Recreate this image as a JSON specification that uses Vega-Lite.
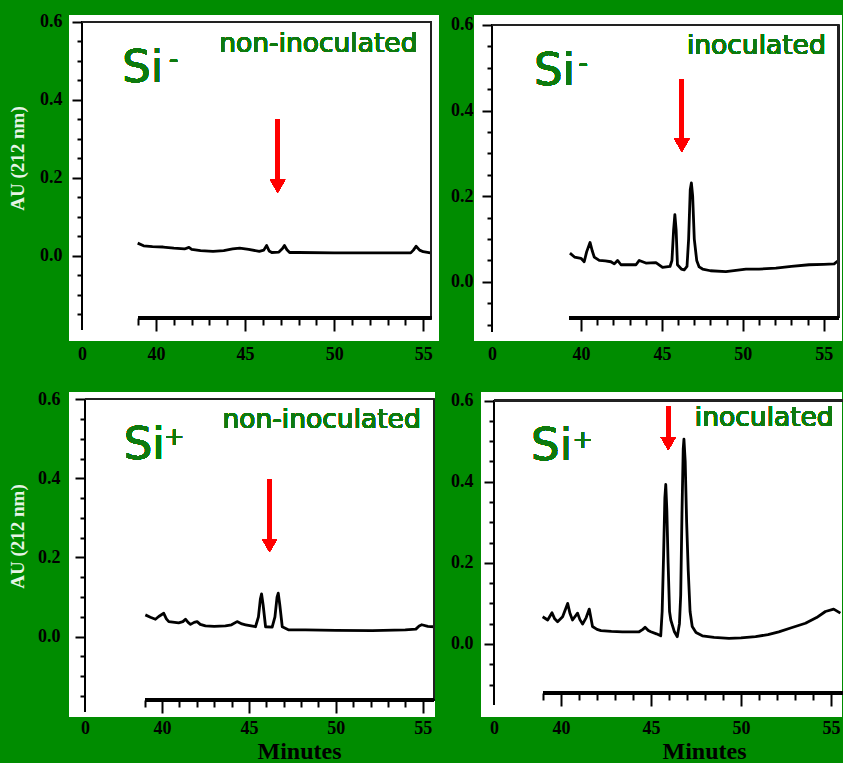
{
  "$schema": "https://vega.github.io/schema/vega-lite/v6.json",
  "background": "#008c00",
  "padding": {"left": 8, "top": 12, "right": 0, "bottom": 0},
  "spacing": 27,
  "config": {
    "view": {"fill": "white", "stroke": null},
    "axis": {"domain": false, "grid": false, "labelFont": "Liberation Serif", "labelFontWeight": "bold", "labelFontSize": 18, "labelColor": "black", "tickColor": "black", "tickWidth": 2, "labelFlush": false, "labelBound": false, "titleFont": "Liberation Serif", "titleFontWeight": "bold"},
    "text": {"font": "DejaVu Sans", "color": "#0e7a0e"}
  },
  "datasets": {
    "p1": [
      {"t": 38.97, "au": 0.032}, {"t": 39.3, "au": 0.025}, {"t": 39.8, "au": 0.023}, {"t": 40.4, "au": 0.022}, {"t": 41.0, "au": 0.019}, {"t": 41.6, "au": 0.017}, {"t": 41.85, "au": 0.021}, {"t": 42.0, "au": 0.016}, {"t": 42.5, "au": 0.013}, {"t": 43.2, "au": 0.011}, {"t": 43.8, "au": 0.013}, {"t": 44.3, "au": 0.017}, {"t": 44.7, "au": 0.019}, {"t": 45.2, "au": 0.016}, {"t": 45.8, "au": 0.011}, {"t": 46.05, "au": 0.014}, {"t": 46.21, "au": 0.026}, {"t": 46.35, "au": 0.012}, {"t": 46.5, "au": 0.008}, {"t": 46.9, "au": 0.009}, {"t": 47.1, "au": 0.018}, {"t": 47.21, "au": 0.026}, {"t": 47.35, "au": 0.015}, {"t": 47.5, "au": 0.008}, {"t": 48.0, "au": 0.008}, {"t": 50.0, "au": 0.007}, {"t": 52.0, "au": 0.007}, {"t": 54.3, "au": 0.007}, {"t": 54.45, "au": 0.014}, {"t": 54.6, "au": 0.024}, {"t": 54.8, "au": 0.014}, {"t": 55.0, "au": 0.010}, {"t": 55.4, "au": 0.007}
    ],
    "p2": [
      {"t": 39.32, "au": 0.067}, {"t": 39.6, "au": 0.058}, {"t": 40.0, "au": 0.055}, {"t": 40.2, "au": 0.047}, {"t": 40.35, "au": 0.07}, {"t": 40.56, "au": 0.092}, {"t": 40.7, "au": 0.072}, {"t": 40.82, "au": 0.058}, {"t": 41.13, "au": 0.050}, {"t": 41.5, "au": 0.049}, {"t": 41.85, "au": 0.047}, {"t": 42.06, "au": 0.042}, {"t": 42.26, "au": 0.050}, {"t": 42.47, "au": 0.040}, {"t": 43.0, "au": 0.040}, {"t": 43.4, "au": 0.040}, {"t": 43.6, "au": 0.050}, {"t": 44.01, "au": 0.044}, {"t": 44.63, "au": 0.045}, {"t": 45.04, "au": 0.034}, {"t": 45.5, "au": 0.036}, {"t": 45.62, "au": 0.05}, {"t": 45.72, "au": 0.12}, {"t": 45.8, "au": 0.157}, {"t": 45.88, "au": 0.12}, {"t": 45.96, "au": 0.04}, {"t": 46.2, "au": 0.030}, {"t": 46.38, "au": 0.028}, {"t": 46.55, "au": 0.036}, {"t": 46.65, "au": 0.10}, {"t": 46.75, "au": 0.215}, {"t": 46.82, "au": 0.231}, {"t": 46.9, "au": 0.20}, {"t": 47.0, "au": 0.10}, {"t": 47.15, "au": 0.05}, {"t": 47.3, "au": 0.035}, {"t": 47.51, "au": 0.030}, {"t": 48.0, "au": 0.026}, {"t": 48.95, "au": 0.024}, {"t": 50.19, "au": 0.030}, {"t": 51.0, "au": 0.030}, {"t": 52.04, "au": 0.032}, {"t": 53.0, "au": 0.036}, {"t": 54.09, "au": 0.040}, {"t": 55.0, "au": 0.041}, {"t": 55.64, "au": 0.042}, {"t": 55.9, "au": 0.050}
    ],
    "p3": [
      {"t": 39.04, "au": 0.055}, {"t": 39.33, "au": 0.049}, {"t": 39.62, "au": 0.044}, {"t": 39.81, "au": 0.051}, {"t": 40.10, "au": 0.059}, {"t": 40.25, "au": 0.045}, {"t": 40.39, "au": 0.038}, {"t": 40.96, "au": 0.035}, {"t": 41.2, "au": 0.038}, {"t": 41.35, "au": 0.044}, {"t": 41.5, "au": 0.036}, {"t": 41.64, "au": 0.031}, {"t": 41.85, "au": 0.036}, {"t": 42.02, "au": 0.038}, {"t": 42.2, "au": 0.031}, {"t": 42.5, "au": 0.027}, {"t": 43.0, "au": 0.026}, {"t": 43.65, "au": 0.027}, {"t": 44.0, "au": 0.030}, {"t": 44.32, "au": 0.038}, {"t": 44.6, "au": 0.032}, {"t": 44.81, "au": 0.030}, {"t": 45.38, "au": 0.025}, {"t": 45.55, "au": 0.05}, {"t": 45.66, "au": 0.095}, {"t": 45.73, "au": 0.108}, {"t": 45.82, "au": 0.08}, {"t": 45.96, "au": 0.025}, {"t": 46.34, "au": 0.024}, {"t": 46.5, "au": 0.05}, {"t": 46.62, "au": 0.10}, {"t": 46.69, "au": 0.110}, {"t": 46.78, "au": 0.08}, {"t": 46.92, "au": 0.025}, {"t": 47.30, "au": 0.017}, {"t": 48.26, "au": 0.017}, {"t": 50.0, "au": 0.016}, {"t": 52.10, "au": 0.015}, {"t": 54.0, "au": 0.017}, {"t": 54.61, "au": 0.019}, {"t": 54.8, "au": 0.027}, {"t": 54.95, "au": 0.030}, {"t": 55.3, "au": 0.026}, {"t": 55.66, "au": 0.025}
    ],
    "p4": [
      {"t": 38.98, "au": 0.067}, {"t": 39.26, "au": 0.059}, {"t": 39.50, "au": 0.077}, {"t": 39.65, "au": 0.062}, {"t": 39.81, "au": 0.055}, {"t": 40.09, "au": 0.067}, {"t": 40.37, "au": 0.100}, {"t": 40.5, "au": 0.075}, {"t": 40.64, "au": 0.059}, {"t": 40.92, "au": 0.076}, {"t": 41.05, "au": 0.06}, {"t": 41.20, "au": 0.049}, {"t": 41.4, "au": 0.065}, {"t": 41.57, "au": 0.086}, {"t": 41.75, "au": 0.043}, {"t": 42.0, "au": 0.036}, {"t": 42.22, "au": 0.033}, {"t": 42.8, "au": 0.031}, {"t": 43.41, "au": 0.030}, {"t": 44.0, "au": 0.030}, {"t": 44.34, "au": 0.030}, {"t": 44.55, "au": 0.036}, {"t": 44.67, "au": 0.041}, {"t": 44.85, "au": 0.033}, {"t": 44.99, "au": 0.030}, {"t": 45.3, "au": 0.025}, {"t": 45.54, "au": 0.020}, {"t": 45.62, "au": 0.08}, {"t": 45.70, "au": 0.22}, {"t": 45.77, "au": 0.36}, {"t": 45.82, "au": 0.393}, {"t": 45.88, "au": 0.33}, {"t": 45.95, "au": 0.20}, {"t": 46.03, "au": 0.08}, {"t": 46.10, "au": 0.059}, {"t": 46.3, "au": 0.030}, {"t": 46.46, "au": 0.018}, {"t": 46.58, "au": 0.05}, {"t": 46.65, "au": 0.12}, {"t": 46.72, "au": 0.32}, {"t": 46.79, "au": 0.48}, {"t": 46.83, "au": 0.505}, {"t": 46.9, "au": 0.45}, {"t": 46.98, "au": 0.30}, {"t": 47.07, "au": 0.18}, {"t": 47.17, "au": 0.08}, {"t": 47.29, "au": 0.043}, {"t": 47.5, "au": 0.028}, {"t": 47.85, "au": 0.020}, {"t": 48.5, "au": 0.016}, {"t": 49.33, "au": 0.014}, {"t": 50.0, "au": 0.015}, {"t": 50.81, "au": 0.018}, {"t": 51.5, "au": 0.023}, {"t": 52.10, "au": 0.030}, {"t": 52.8, "au": 0.040}, {"t": 53.58, "au": 0.051}, {"t": 54.2, "au": 0.065}, {"t": 54.69, "au": 0.080}, {"t": 55.15, "au": 0.086}, {"t": 55.52, "au": 0.076}
    ]
  },
  "vconcat": [
    {
      "hconcat": [
        {
          "width": 370, "height": 326,
          "data": {"name": "p1"},
          "resolve": {"axis": {"x": "independent", "y": "independent"}},
          "layer": [
            {
              "mark": {"type": "line", "color": "black", "strokeWidth": 2.8, "strokeJoin": "round"},
              "encoding": {
                "x": {"field": "t", "type": "quantitative", "scale": {"domain": [0, 37, 56], "range": [13, 33.6, 372], "nice": false, "zero": false},
                  "axis": {"orient": "bottom", "offset": -23, "values": [0, 40, 45, 50, 55], "tickSize": 13, "tickOpacity": {"condition": {"test": "datum.value === 0", "value": 0}, "value": 1}, "labelPadding": 14, "title": null}},
                "y": {"field": "au", "type": "quantitative", "scale": {"domain": [-0.219, 0.617], "nice": false, "zero": false},
                  "axis": {"orient": "left", "offset": -13, "values": [0, 0.2, 0.4, 0.6], "format": ".1f", "tickSize": 10, "labelPadding": 10, "title": "AU (212 nm)", "titleX": -65, "titleY": 143, "titleAngle": -90, "titleAlign": "center", "titleBaseline": "middle", "titleColor": "#e6f4e6", "titleFontSize": 19}}
              }
            },
            {"mark": {"type": "rule", "color": "black", "strokeWidth": 2}, "encoding": {"x": {"datum": 0, "type": "quantitative", "axis": null}, "y": {"datum": -0.19, "type": "quantitative", "axis": {"orient": "left", "offset": -13, "values": [-0.15, -0.1, -0.05, 0.05, 0.1, 0.15, 0.25, 0.3, 0.35, 0.45, 0.5, 0.55], "labels": false, "tickSize": 5, "title": null}}, "y2": {"datum": 0.6}}},
            {"mark": {"type": "rule", "color": "#222", "strokeWidth": 1.5}, "encoding": {"x": {"datum": 0, "type": "quantitative", "axis": null}, "x2": {"datum": 55.45}, "y": {"datum": 0.6, "type": "quantitative", "axis": null}}},
            {"mark": {"type": "rule", "color": "#222", "strokeWidth": 1.5}, "encoding": {"x": {"datum": 55.45, "type": "quantitative", "axis": null}, "y": {"datum": -0.16, "type": "quantitative", "axis": null}, "y2": {"datum": 0.6}}},
            {"mark": {"type": "rule", "color": "black", "strokeWidth": 2.5}, "encoding": {"x": {"datum": 39, "type": "quantitative", "axis": {"orient": "bottom", "offset": -23, "values": [39, 41, 42, 43, 44, 46, 47, 48, 49, 51, 52, 53, 54], "labels": false, "tickSize": 7, "title": null}}, "x2": {"datum": 55.45}, "y": {"datum": -0.16, "type": "quantitative", "axis": null}}},
            {"mark": {"type": "rule", "color": "red", "strokeWidth": 4}, "encoding": {"x": {"datum": 46.83, "type": "quantitative", "axis": null}, "y": {"datum": 0.349, "type": "quantitative", "axis": null}, "y2": {"datum": 0.19}}},
            {"mark": {"type": "point", "shape": "triangle-down", "filled": true, "color": "red", "opacity": 1, "size": 225}, "encoding": {"x": {"datum": 46.83, "type": "quantitative", "axis": null}, "y": {"datum": 0.178, "type": "quantitative", "axis": null}}},
            {"mark": {"type": "text", "text": "Si", "align": "left", "baseline": "alphabetic", "fontSize": 45}, "encoding": {"x": {"datum": 38.1, "type": "quantitative", "axis": null}, "y": {"datum": 0.444, "type": "quantitative", "axis": null}}},
            {"mark": {"type": "text", "text": "-", "align": "center", "baseline": "alphabetic", "fontSize": 26}, "encoding": {"x": {"datum": 40.99, "type": "quantitative", "axis": null}, "y": {"datum": 0.482, "type": "quantitative", "axis": null}}},
            {"mark": {"type": "text", "text": "non-inoculated", "align": "right", "baseline": "alphabetic", "fontSize": 26.5}, "encoding": {"x": {"datum": 54.68, "type": "quantitative", "axis": null}, "y": {"datum": 0.523, "type": "quantitative", "axis": null}}}
          ]
        },
        {
          "width": 368, "height": 326,
          "data": {"name": "p2"},
          "resolve": {"axis": {"x": "independent", "y": "independent"}},
          "layer": [
            {
              "mark": {"type": "line", "color": "black", "strokeWidth": 2.8, "strokeJoin": "round"},
              "encoding": {
                "x": {"field": "t", "type": "quantitative", "scale": {"domain": [0, 36, 56], "range": [18, 42.2, 366], "nice": false, "zero": false},
                  "axis": {"orient": "bottom", "offset": -23, "values": [0, 40, 45, 50, 55], "tickSize": 13, "tickOpacity": {"condition": {"test": "datum.value === 0", "value": 0}, "value": 1}, "labelPadding": 14, "title": null}},
                "y": {"field": "au", "type": "quantitative", "scale": {"domain": [-0.138, 0.623], "nice": false, "zero": false},
                  "axis": {"orient": "left", "offset": -18, "values": [0, 0.2, 0.4, 0.6], "format": ".1f", "tickSize": 10, "labelPadding": 9, "title": null}}
              }
            },
            {"mark": {"type": "rule", "color": "black", "strokeWidth": 2}, "encoding": {"x": {"datum": 0, "type": "quantitative", "axis": null}, "y": {"datum": -0.116, "type": "quantitative", "axis": {"orient": "left", "offset": -18, "values": [-0.1, -0.05, 0.05, 0.1, 0.15, 0.25, 0.3, 0.35, 0.45, 0.5, 0.55], "labels": false, "tickSize": 5, "title": null}}, "y2": {"datum": 0.6}}},
            {"mark": {"type": "rule", "color": "#222", "strokeWidth": 1.5}, "encoding": {"x": {"datum": 0, "type": "quantitative", "axis": null}, "x2": {"datum": 55.9}, "y": {"datum": 0.6, "type": "quantitative", "axis": null}}},
            {"mark": {"type": "rule", "color": "#222", "strokeWidth": 1.5}, "encoding": {"x": {"datum": 55.9, "type": "quantitative", "axis": null}, "y": {"datum": -0.0843, "type": "quantitative", "axis": null}, "y2": {"datum": 0.6}}},
            {"mark": {"type": "rule", "color": "black", "strokeWidth": 2.5}, "encoding": {"x": {"datum": 39.3, "type": "quantitative", "axis": {"orient": "bottom", "offset": -23, "values": [41, 42, 43, 44, 46, 47, 48, 49, 51, 52, 53, 54], "labels": false, "tickSize": 7, "title": null}}, "x2": {"datum": 55.9}, "y": {"datum": -0.0843, "type": "quantitative", "axis": null}}},
            {"mark": {"type": "rule", "color": "red", "strokeWidth": 4}, "encoding": {"x": {"datum": 46.23, "type": "quantitative", "axis": null}, "y": {"datum": 0.473, "type": "quantitative", "axis": null}, "y2": {"datum": 0.33}}},
            {"mark": {"type": "point", "shape": "triangle-down", "filled": true, "color": "red", "opacity": 1, "size": 225}, "encoding": {"x": {"datum": 46.23, "type": "quantitative", "axis": null}, "y": {"datum": 0.319, "type": "quantitative", "axis": null}}},
            {"mark": {"type": "text", "text": "Si", "align": "left", "baseline": "alphabetic", "fontSize": 45}, "encoding": {"x": {"datum": 37.1, "type": "quantitative", "axis": null}, "y": {"datum": 0.46, "type": "quantitative", "axis": null}}},
            {"mark": {"type": "text", "text": "-", "align": "center", "baseline": "alphabetic", "fontSize": 26}, "encoding": {"x": {"datum": 40.13, "type": "quantitative", "axis": null}, "y": {"datum": 0.4896, "type": "quantitative", "axis": null}}},
            {"mark": {"type": "text", "text": "inoculated", "align": "right", "baseline": "alphabetic", "fontSize": 26.5}, "encoding": {"x": {"datum": 55.12, "type": "quantitative", "axis": null}, "y": {"datum": 0.533, "type": "quantitative", "axis": null}}}
          ]
        }
      ],
      "spacing": 35,
      "bounds": "flush"
    },
    {
      "hconcat": [
        {
          "width": 366, "height": 325,
          "data": {"name": "p3"},
          "resolve": {"axis": {"x": "independent", "y": "independent"}},
          "layer": [
            {
              "mark": {"type": "line", "color": "black", "strokeWidth": 2.8, "strokeJoin": "round"},
              "encoding": {
                "x": {"field": "t", "type": "quantitative", "scale": {"domain": [0, 37, 56], "range": [16, 40.9, 371], "nice": false, "zero": false},
                  "axis": {"orient": "bottom", "offset": -17, "values": [0, 40, 45, 50, 55], "tickSize": 13, "tickOpacity": {"condition": {"test": "datum.value === 0", "value": 0}, "value": 1}, "labelPadding": 6, "title": "Minutes", "titleX": 230, "titleY": 51, "titleAlign": "center", "titleBaseline": "middle", "titleColor": "black", "titleFontSize": 24}},
                "y": {"field": "au", "type": "quantitative", "scale": {"domain": [-0.203, 0.618], "nice": false, "zero": false},
                  "axis": {"orient": "left", "offset": -16, "values": [0, 0.2, 0.4, 0.6], "format": ".1f", "tickSize": 10, "labelPadding": 15, "title": "AU (212 nm)", "titleX": -68, "titleY": 144, "titleAngle": -90, "titleAlign": "center", "titleBaseline": "middle", "titleColor": "#e6f4e6", "titleFontSize": 19}}
              }
            },
            {"mark": {"type": "rule", "color": "black", "strokeWidth": 2}, "encoding": {"x": {"datum": 0, "type": "quantitative", "axis": null}, "y": {"datum": -0.19, "type": "quantitative", "axis": {"orient": "left", "offset": -16, "values": [-0.15, -0.1, -0.05, 0.05, 0.1, 0.15, 0.25, 0.3, 0.35, 0.45, 0.5, 0.55], "labels": false, "tickSize": 5, "title": null}}, "y2": {"datum": 0.6}}},
            {"mark": {"type": "rule", "color": "#222", "strokeWidth": 1.5}, "encoding": {"x": {"datum": 0, "type": "quantitative", "axis": null}, "x2": {"datum": 55.66}, "y": {"datum": 0.6, "type": "quantitative", "axis": null}}},
            {"mark": {"type": "rule", "color": "#222", "strokeWidth": 1.5}, "encoding": {"x": {"datum": 55.66, "type": "quantitative", "axis": null}, "y": {"datum": -0.16, "type": "quantitative", "axis": null}, "y2": {"datum": 0.6}}},
            {"mark": {"type": "rule", "color": "black", "strokeWidth": 2.5}, "encoding": {"x": {"datum": 39.04, "type": "quantitative", "axis": {"orient": "bottom", "offset": -17, "values": [39, 41, 42, 43, 44, 46, 47, 48, 49, 51, 52, 53, 54], "labels": false, "tickSize": 7, "title": null}}, "x2": {"datum": 55.66}, "y": {"datum": -0.16, "type": "quantitative", "axis": null}}},
            {"mark": {"type": "rule", "color": "red", "strokeWidth": 4}, "encoding": {"x": {"datum": 46.19, "type": "quantitative", "axis": null}, "y": {"datum": 0.398, "type": "quantitative", "axis": null}, "y2": {"datum": 0.24}}},
            {"mark": {"type": "point", "shape": "triangle-down", "filled": true, "color": "red", "opacity": 1, "size": 225}, "encoding": {"x": {"datum": 46.19, "type": "quantitative", "axis": null}, "y": {"datum": 0.23, "type": "quantitative", "axis": null}}},
            {"mark": {"type": "text", "text": "Si", "align": "left", "baseline": "alphabetic", "fontSize": 45}, "encoding": {"x": {"datum": 37.8, "type": "quantitative", "axis": null}, "y": {"datum": 0.45, "type": "quantitative", "axis": null}}},
            {"mark": {"type": "text", "text": "+", "align": "center", "baseline": "alphabetic", "fontSize": 24}, "encoding": {"x": {"datum": 40.71, "type": "quantitative", "axis": null}, "y": {"datum": 0.483, "type": "quantitative", "axis": null}}},
            {"mark": {"type": "text", "text": "non-inoculated", "align": "right", "baseline": "alphabetic", "fontSize": 26.5}, "encoding": {"x": {"datum": 54.89, "type": "quantitative", "axis": null}, "y": {"datum": 0.526, "type": "quantitative", "axis": null}}}
          ]
        },
        {
          "width": 361, "height": 325,
          "data": {"name": "p4"},
          "resolve": {"axis": {"x": "independent", "y": "independent"}},
          "layer": [
            {
              "mark": {"type": "line", "color": "black", "strokeWidth": 2.8, "strokeJoin": "round"},
              "encoding": {
                "x": {"field": "t", "type": "quantitative", "scale": {"domain": [0, 38, 56], "range": [13, 44, 368], "nice": false, "zero": false},
                  "axis": {"orient": "bottom", "offset": -24, "values": [0, 40, 45, 50, 55], "tickSize": 13, "tickOpacity": {"condition": {"test": "datum.value === 0", "value": 0}, "value": 1}, "labelPadding": 13, "title": "Minutes", "titleX": 223, "titleY": 58, "titleAlign": "center", "titleBaseline": "middle", "titleColor": "black", "titleFontSize": 24}},
                "y": {"field": "au", "type": "quantitative", "scale": {"domain": [-0.18, 0.621], "nice": false, "zero": false},
                  "axis": {"orient": "left", "offset": -13, "values": [0, 0.2, 0.4, 0.6], "format": ".1f", "tickSize": 10, "labelPadding": 11, "title": null}}
              }
            },
            {"mark": {"type": "rule", "color": "black", "strokeWidth": 2}, "encoding": {"x": {"datum": 0, "type": "quantitative", "axis": null}, "y": {"datum": -0.15, "type": "quantitative", "axis": {"orient": "left", "offset": -13, "values": [-0.1, -0.05, 0.05, 0.1, 0.15, 0.25, 0.3, 0.35, 0.45, 0.5, 0.55], "labels": false, "tickSize": 5, "title": null}}, "y2": {"datum": 0.6}}},
            {"mark": {"type": "rule", "color": "#222", "strokeWidth": 1.5}, "encoding": {"x": {"datum": 0, "type": "quantitative", "axis": null}, "x2": {"datum": 56}, "y": {"datum": 0.6, "type": "quantitative", "axis": null}}},
            {"mark": {"type": "rule", "color": "black", "strokeWidth": 2.5}, "encoding": {"x": {"datum": 39, "type": "quantitative", "axis": {"orient": "bottom", "offset": -24, "values": [39, 41, 42, 43, 44, 46, 47, 48, 49, 51, 52, 53, 54], "labels": false, "tickSize": 7, "title": null}}, "x2": {"datum": 56}, "y": {"datum": -0.1208, "type": "quantitative", "axis": null}}},
            {"mark": {"type": "rule", "color": "red", "strokeWidth": 4}, "encoding": {"x": {"datum": 45.96, "type": "quantitative", "axis": null}, "y": {"datum": 0.585, "type": "quantitative", "axis": null}, "y2": {"datum": 0.505}}},
            {"mark": {"type": "point", "shape": "triangle-down", "filled": true, "color": "red", "opacity": 1, "size": 225}, "encoding": {"x": {"datum": 45.96, "type": "quantitative", "axis": null}, "y": {"datum": 0.494, "type": "quantitative", "axis": null}}},
            {"mark": {"type": "text", "text": "Si", "align": "left", "baseline": "alphabetic", "fontSize": 45}, "encoding": {"x": {"datum": 38.34, "type": "quantitative", "axis": null}, "y": {"datum": 0.453, "type": "quantitative", "axis": null}}},
            {"mark": {"type": "text", "text": "+", "align": "center", "baseline": "alphabetic", "fontSize": 24}, "encoding": {"x": {"datum": 41.21, "type": "quantitative", "axis": null}, "y": {"datum": 0.4823, "type": "quantitative", "axis": null}}},
            {"mark": {"type": "text", "text": "inoculated", "align": "right", "baseline": "alphabetic", "fontSize": 26.5}, "encoding": {"x": {"datum": 55.15, "type": "quantitative", "axis": null}, "y": {"datum": 0.538, "type": "quantitative", "axis": null}}}
          ]
        }
      ],
      "spacing": 46,
      "bounds": "flush"
    }
  ]
}
